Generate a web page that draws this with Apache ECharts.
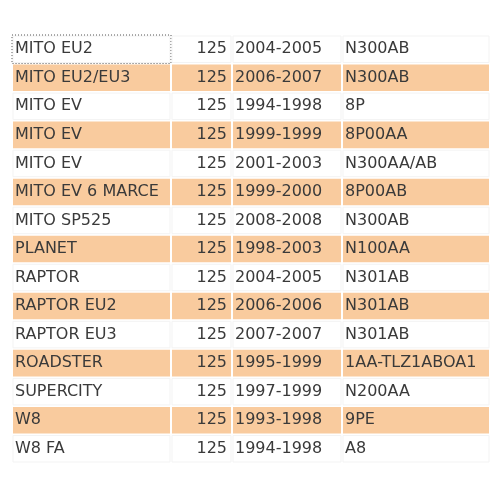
<!DOCTYPE html>
<html>
<head>
<meta charset="utf-8">
<script src="https://cdn.jsdelivr.net/npm/echarts@6/dist/echarts.min.js"></script>
<style>html,body{margin:0;padding:0;background:#fff}#main{width:500px;height:500px}</style>
</head>
<body>
<div id="main"></div>
<script>
var models = ['MITO EU2', 'MITO EU2/EU3', 'MITO EV', 'MITO EV', 'MITO EV', 'MITO EV 6 MARCE', 'MITO SP525',
    'PLANET', 'RAPTOR', 'RAPTOR EU2', 'RAPTOR EU3', 'ROADSTER', 'SUPERCITY', 'W8', 'W8 FA'];
var cc = ['125', '125', '125', '125', '125', '125', '125', '125', '125', '125', '125', '125', '125', '125', '125'];
var years = ['2004-2005', '2006-2007', '1994-1998', '1999-1999', '2001-2003', '1999-2000', '2008-2008',
    '1998-2003', '2004-2005', '2006-2006', '2007-2007', '1995-1999', '1997-1999', '1993-1998', '1994-1998'];
var codes = ['N300AB', 'N300AB', '8P', '8P00AA', 'N300AA/AB', '8P00AB', 'N300AB',
    'N100AA', 'N301AB', 'N301AB', 'N301AB', '1AA-TLZ1ABOA1', 'N200AA', '9PE', 'A8'];

// 列边界（像素坐标系）
var colEdges = [12, 171, 232, 342, 490];
var columns = [models, cc, years, codes];

var data = [];
for (var r = 0; r < models.length; r++) {
    for (var c = 0; c < 4; c++) {
        data.push([c, r, columns[c][r]]);
    }
}

var chart = echarts.init(document.getElementById('main'));
chart.setOption({
    animation: false,
    grid: { left: 12, right: 10, top: 35, bottom: 37 },
    xAxis: { type: 'value', min: 12, max: 490, show: false },
    yAxis: { type: 'category', data: models.map(function (m, i) { return i; }), inverse: true, show: false },
    series: [{
        type: 'custom',
        data: data,
        encode: { x: -1, y: 1 },
        renderItem: function (params, api) {
            var c = api.value(0), r = api.value(1), txt = data[params.dataIndex][2];
            var p0 = api.coord([colEdges[c], r]);
            var p1 = api.coord([colEdges[c + 1], r]);
            var h = api.size([0, 1])[1];
            var top = p0[1] - h / 2;
            var shaded = r % 2 === 1;
            var children = [{
                type: 'rect',
                shape: { x: p0[0] + 1, y: top + 1, width: p1[0] - p0[0] - 2, height: h - 2 },
                style: { fill: shaded ? '#f9cb9e' : '#fff', stroke: shaded ? null : '#f3f3f3', lineWidth: 1 }
            }];
            var right = c === 1;
            children.push({
                type: 'text',
                style: {
                    x: right ? p1[0] - 5 : p0[0] + 3,
                    y: p0[1],
                    text: txt,
                    fill: '#3a3a3a',
                    font: '16px "DejaVu Sans"',
                    align: right ? 'right' : 'left',
                    verticalAlign: 'middle'
                }
            });
            if (r === 0 && c === 0) {
                children.push({
                    type: 'rect',
                    shape: { x: p0[0], y: top, width: p1[0] - p0[0], height: h },
                    style: { fill: null, stroke: '#555', lineWidth: 1, lineDash: [1, 2] }
                });
            }
            return { type: 'group', children: children };
        }
    }]
});
</script>
</body>
</html>
